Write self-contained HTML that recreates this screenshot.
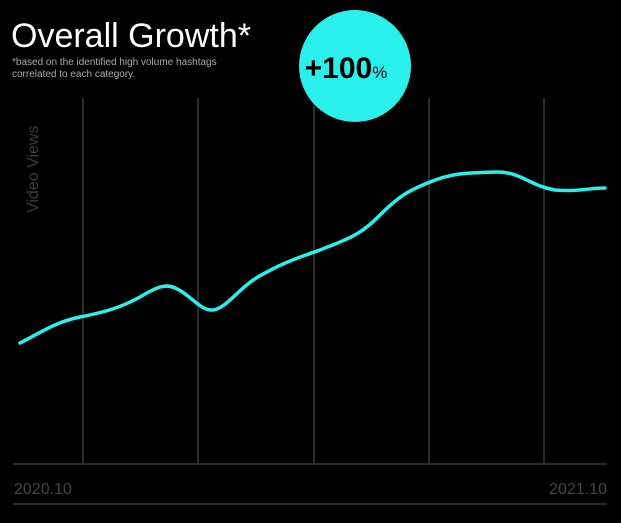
<!DOCTYPE html>
<html><head><style>
body{margin:0;background:#000;width:621px;height:518px;overflow:hidden;font-family:"Liberation Sans",sans-serif;}
</style></head><body>
<svg width="621" height="518" viewBox="0 0 621 518" xmlns="http://www.w3.org/2000/svg">
<rect width="621" height="518" fill="#000"/>
<g stroke="#3a3a3a" stroke-width="1.5">
<line x1="83" y1="98" x2="83" y2="464"/>
<line x1="198" y1="98" x2="198" y2="464"/>
<line x1="314" y1="98" x2="314" y2="464"/>
<line x1="429" y1="98" x2="429" y2="464"/>
<line x1="544" y1="98" x2="544" y2="464"/>
<line x1="13" y1="464" x2="607" y2="464"/>
<line x1="13" y1="504" x2="607" y2="504"/>
</g>
<text x="11" y="47" fill="#fff" font-size="34" font-family="Liberation Sans, sans-serif">Overall Growth*</text>
<text x="12" y="65" fill="#aaa" font-size="10">*based on the identified high volume hashtags</text>
<text x="12" y="77" fill="#aaa" font-size="10">correlated to each category.</text>
<circle cx="355" cy="66" r="56" fill="#2af0ec"/>
<text x="346" y="78" text-anchor="middle" fill="#000" font-size="30" font-weight="bold">+100<tspan font-size="17" font-weight="normal">%</tspan></text>
<text transform="translate(38,213) rotate(-90)" fill="#3c3c3c" font-size="16">Video Views</text>
<text x="14" y="494" fill="#444" font-size="16">2020.10</text>
<text x="607" y="494" text-anchor="end" fill="#444" font-size="16">2021.10</text>
<path d="M20,343 C40,333 55,322 80,317 C105,312 120,308 140,297 C155,288 165,283 175,288 C190,294 200,311 213,310 C228,308 240,285 265,273 C285,262 300,257 320,250 C345,240 360,236 380,215 C400,195 410,190 430,182 C455,172 470,173 495,172 C520,171 530,186 555,190 C575,192 590,188 605,188" fill="none" stroke="#2af0ec" stroke-width="3.5" stroke-linecap="round"/>
</svg>
</body></html>
